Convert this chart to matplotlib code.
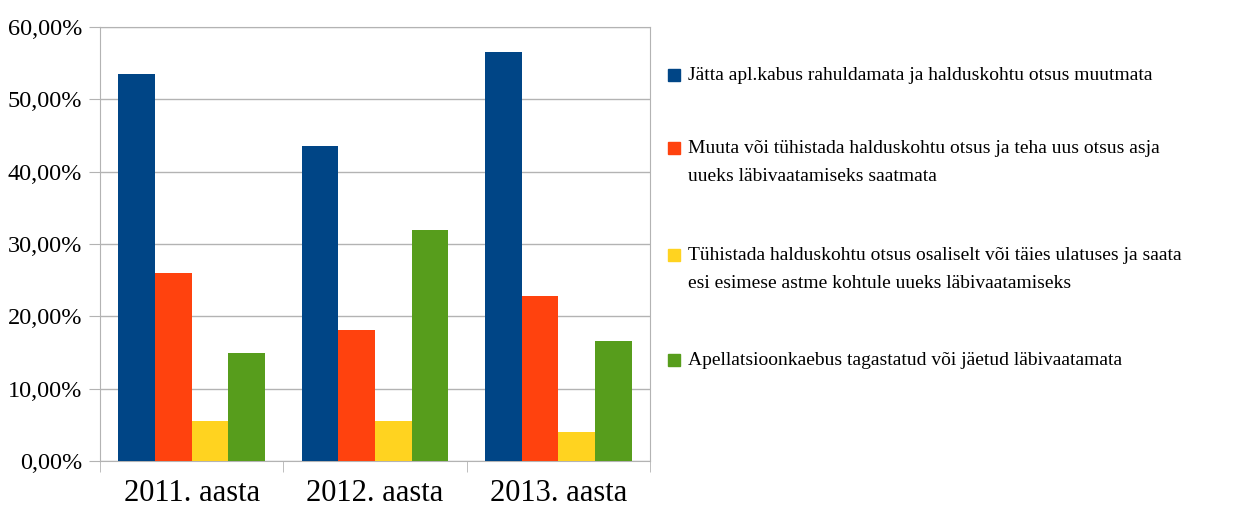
import matplotlib.pyplot as plt
import numpy as np
from matplotlib.patches import Rectangle
from matplotlib.ticker import FuncFormatter, FixedLocator

plt.rcParams['font.family'] = ['Liberation Serif', 'DejaVu Serif']

# Andmed
years = ['2011. aasta', '2012. aasta', '2013. aasta']
labels = [
    'Jätta apl.kabus rahuldamata ja halduskohtu otsus muutmata',
    'Muuta või tühistada halduskohtu otsus ja teha uus otsus asja\nuueks läbivaatamiseks saatmata',
    'Tühistada halduskohtu otsus osaliselt või täies ulatuses ja saata\nesi esimese astme kohtule uueks läbivaatamiseks',
    'Apellatsioonkaebus tagastatud või jäetud läbivaatamata',
]
jatta = [53.5, 43.6, 56.55]
muuta = [26.05, 18.05, 22.85]
tuhistada = [5.5, 5.5, 3.95]
apell = [15.0, 32.0, 16.65]
colors = ['#004586', '#ff420e', '#ffd320', '#579d1c']

series = [jatta, muuta, tuhistada, apell]

fig = plt.figure(figsize=(12.41, 5.09), dpi=100)
ax = fig.add_axes([100 / 1241, 1 - 461 / 509, 550 / 1241, 434 / 509])

x = np.arange(len(years))
w = 0.2
for i, vals in enumerate(series):
    ax.bar(x - 0.3 + i * w, vals, width=w, color=colors[i], zorder=3)

ax.set_xlim(-0.5, 2.5)
ax.set_ylim(0, 60)
ax.set_yticks(np.arange(0, 61, 10))
ax.yaxis.set_major_formatter(FuncFormatter(lambda v, p: f'{v:.2f}'.replace('.', ',') + '%'))
ax.grid(axis='y', color='#b3b3b3', linewidth=1, zorder=0)
for s in ax.spines.values():
    s.set_color('#b3b3b3')
ax.tick_params(axis='y', colors='#b3b3b3', labelcolor='black', labelsize=17.5, length=8, pad=5)

ax.set_xticks(x)
ax.set_xticklabels(years, fontsize=22)
ax.tick_params(axis='x', which='major', length=0, pad=13)
ax.xaxis.set_minor_locator(FixedLocator([-0.5, 0.5, 1.5, 2.5]))
ax.tick_params(axis='x', which='minor', length=8, colors='#b3b3b3')

# legend: marker on the first line of each entry
ys = [75, 148, 255, 360]
for i, (lab, y) in enumerate(zip(labels, ys)):
    fig.patches.append(Rectangle((668 / 1241, 1 - (y + 6) / 509), 12 / 1241, 12 / 509,
                                 transform=fig.transFigure, color=colors[i]))
    fig.text(688 / 1241, 1 - (y - 8) / 509, lab, fontsize=14, va='top', ha='left',
             linespacing=1.85)

fig.savefig('out.png', dpi=100)
